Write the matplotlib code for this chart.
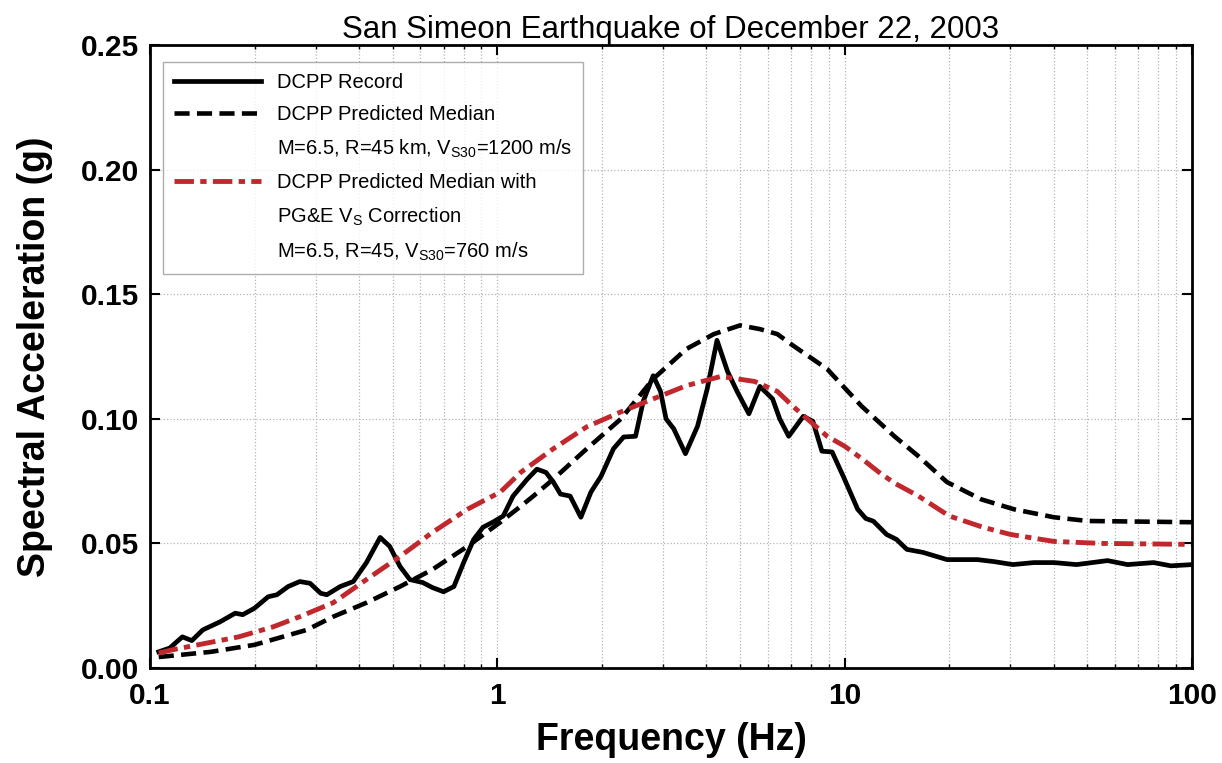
import matplotlib
matplotlib.use("Agg")
import matplotlib.pyplot as plt
from matplotlib.lines import Line2D
from matplotlib.ticker import LogLocator, NullFormatter, FixedLocator, FixedFormatter

plt.rcParams['font.family'] = ['Liberation Sans', 'DejaVu Sans']
plt.rcParams['mathtext.fontset'] = 'custom'
plt.rcParams['mathtext.rm'] = 'Liberation Sans'
plt.rcParams['mathtext.it'] = 'Liberation Sans:italic'
plt.rcParams['mathtext.bf'] = 'Liberation Sans:bold'

# DCPP record (frequency Hz, spectral acceleration g)
rec_f = [0.106, 0.114, 0.124, 0.132, 0.142, 0.159, 0.176, 0.185, 0.200, 0.219,
         0.232, 0.250, 0.270, 0.289, 0.310, 0.323, 0.353, 0.385, 0.42, 0.46,
         0.49, 0.525, 0.56, 0.61, 0.65, 0.70, 0.75, 0.80, 0.855, 0.91,
         0.97, 1.04, 1.11, 1.22, 1.30, 1.38, 1.45, 1.52, 1.62, 1.74,
         1.86, 1.99, 2.16, 2.31, 2.5, 2.63, 2.81, 2.95, 3.06, 3.22,
         3.48, 3.77, 4.02, 4.29, 4.6, 4.9, 5.3, 5.7, 6.2, 6.5,
         6.9, 7.6, 8.1, 8.6, 9.2, 9.9, 10.9, 11.5, 12.1, 13.2,
         14.1, 15.1, 16.8, 19.7, 24.1, 26.9, 30.5, 35.0, 40.1, 46.5,
         57.1, 65.2, 77.5, 86.9, 100]
rec_sa = [0.0065, 0.008, 0.0125, 0.011, 0.0153, 0.0185, 0.022, 0.0214, 0.024, 0.0286,
          0.0294, 0.0327, 0.0347, 0.0340, 0.0300, 0.0294, 0.0327, 0.0347, 0.0423, 0.0524,
          0.0488, 0.0407, 0.0355, 0.0343, 0.0323, 0.0306, 0.0327, 0.0423, 0.0516, 0.0565,
          0.0585, 0.061, 0.069, 0.0758, 0.0798, 0.0785, 0.0746, 0.0698, 0.069, 0.0605,
          0.0706, 0.077, 0.088, 0.0927, 0.093, 0.107, 0.1173, 0.111, 0.100, 0.096,
          0.086, 0.097, 0.112, 0.1315, 0.119, 0.111, 0.102, 0.113, 0.108, 0.100,
          0.093, 0.101, 0.099, 0.087, 0.0867, 0.077, 0.0637, 0.0600, 0.0589, 0.0536,
          0.0516, 0.0476, 0.0464, 0.0435, 0.0435, 0.0427, 0.0415, 0.0423, 0.0423, 0.0415,
          0.0431, 0.0415, 0.0423, 0.041, 0.0415]

# predicted median, Vs30=1200 m/s
med_f = [0.106, 0.15, 0.2, 0.283, 0.337, 0.42, 0.525, 0.65, 0.82, 1.02,
         1.17, 1.27, 1.45, 1.81, 2.27, 2.81, 3.5, 4.2, 5.0, 5.7,
         6.4, 7.1, 8.9, 11.2, 13.9, 16.3, 19.7, 24.7, 30.7, 40.0,
         50.0, 100]
med_sa = [0.0044, 0.0065, 0.0093, 0.0153, 0.0206, 0.0262, 0.0327, 0.0395, 0.0488, 0.0585,
          0.065, 0.069, 0.0758, 0.088, 0.100, 0.116, 0.128, 0.134, 0.1375, 0.136,
          0.134, 0.1294, 0.120, 0.105, 0.093, 0.085, 0.0746, 0.0677, 0.0637, 0.0605,
          0.059, 0.0585]

# predicted median with PG&E Vs correction, Vs30=760 m/s
cor_f = [0.106, 0.116, 0.18, 0.226, 0.27, 0.337, 0.42, 0.525, 0.65, 0.82,
         1.02, 1.17, 1.45, 1.81, 2.27, 2.81, 3.5, 4.4, 5.5, 6.4,
         7.1, 8.9, 10.0, 11.2, 12.7, 14.0, 16.3, 20.0, 25.0, 30.0,
         40.0, 55.0, 100]
cor_sa = [0.006, 0.0073, 0.0125, 0.0165, 0.0206, 0.0262, 0.0355, 0.0448, 0.0544, 0.0637,
          0.0706, 0.0786, 0.088, 0.0968, 0.1028, 0.108, 0.1133, 0.117, 0.115, 0.111,
          0.105, 0.093, 0.089, 0.084, 0.078, 0.074, 0.069, 0.061, 0.0565, 0.0536,
          0.0508, 0.050, 0.0496]

labels = ["DCPP Record",
          "DCPP Predicted Median",
          r"M=6.5, R=45 km, V$_{\mathrm{S30}}$=1200 m/s",
          "DCPP Predicted Median with",
          r"PG&E V$_{\mathrm{S}}$ Correction",
          r"M=6.5, R=45, V$_{\mathrm{S30}}$=760 m/s"]
xticks = [0.1, 1, 10, 100]
xticklabels = ["0.1", "1", "10", "100"]
yticks = [0.0, 0.05, 0.10, 0.15, 0.20, 0.25]
yticklabels = ["0.00", "0.05", "0.10", "0.15", "0.20", "0.25"]

red = "#c0282d"
dash_med = (3.3, 1.6)
dash_cor = (4.0, 1.3, 1.3, 1.3)

fig = plt.figure(figsize=(12.22, 7.63), dpi=100)
ax = fig.add_axes([0.1227, 0.1245, 0.8528, 0.8165])

ax.plot(rec_f, rec_sa, color="black", lw=3.4, solid_joinstyle="round")
ax.plot(med_f, med_sa, color="black", lw=3.3, dashes=dash_med)
ax.plot(cor_f, cor_sa, color=red, lw=3.5, dashes=dash_cor)

ax.set_xscale("log")
ax.set_xlim(0.1, 100)
ax.set_ylim(0, 0.25)

ax.xaxis.set_major_locator(FixedLocator(xticks))
ax.xaxis.set_major_formatter(FixedFormatter(xticklabels))
ax.xaxis.set_minor_locator(LogLocator(base=10, subs=range(2, 10)))
ax.xaxis.set_minor_formatter(NullFormatter())
ax.yaxis.set_major_locator(FixedLocator(yticks))
ax.yaxis.set_major_formatter(FixedFormatter(yticklabels))

ax.grid(which="major", axis="both", color="#b5b5b5", linestyle=":", lw=0.9)
ax.grid(which="minor", axis="x", color="#b5b5b5", linestyle=":", lw=0.9)

ax.tick_params(which="major", direction="in", length=7, width=1.5,
               top=True, right=True, labelsize=21.5)
ax.tick_params(which="minor", direction="in", length=3, width=1.0,
               top=True, bottom=True)
ax.tick_params(axis="x", which="major", pad=10)
ax.tick_params(axis="y", which="major", pad=8)
for lab in ax.get_xticklabels() + ax.get_yticklabels():
    lab.set_fontweight("bold")
for sp in ax.spines.values():
    sp.set_linewidth(2.0)

ax.set_xlabel("Frequency (Hz)", fontsize=27, fontweight="bold", labelpad=9)
ax.set_ylabel("Spectral Acceleration (g)", fontsize=27, fontweight="bold", labelpad=20)
ax.set_title("San Simeon Earthquake of December 22, 2003", fontsize=22.5, pad=3)

blank = Line2D([], [], linestyle="none")
handles = [Line2D([], [], color="black", lw=3.4),
           Line2D([], [], color="black", lw=3.3, dashes=dash_med),
           blank,
           Line2D([], [], color=red, lw=3.5, dashes=dash_cor),
           blank,
           blank]
leg = ax.legend(handles, labels, loc="upper left", bbox_to_anchor=(0.0125, 0.973),
                borderaxespad=0, fontsize=14.5, handlelength=4.3, handletextpad=0.8,
                labelspacing=0.66, frameon=True, fancybox=False, borderpad=0.55)
leg.get_frame().set_edgecolor("#999999")
leg.get_frame().set_linewidth(1.0)

fig.savefig("out.png", dpi=100)
